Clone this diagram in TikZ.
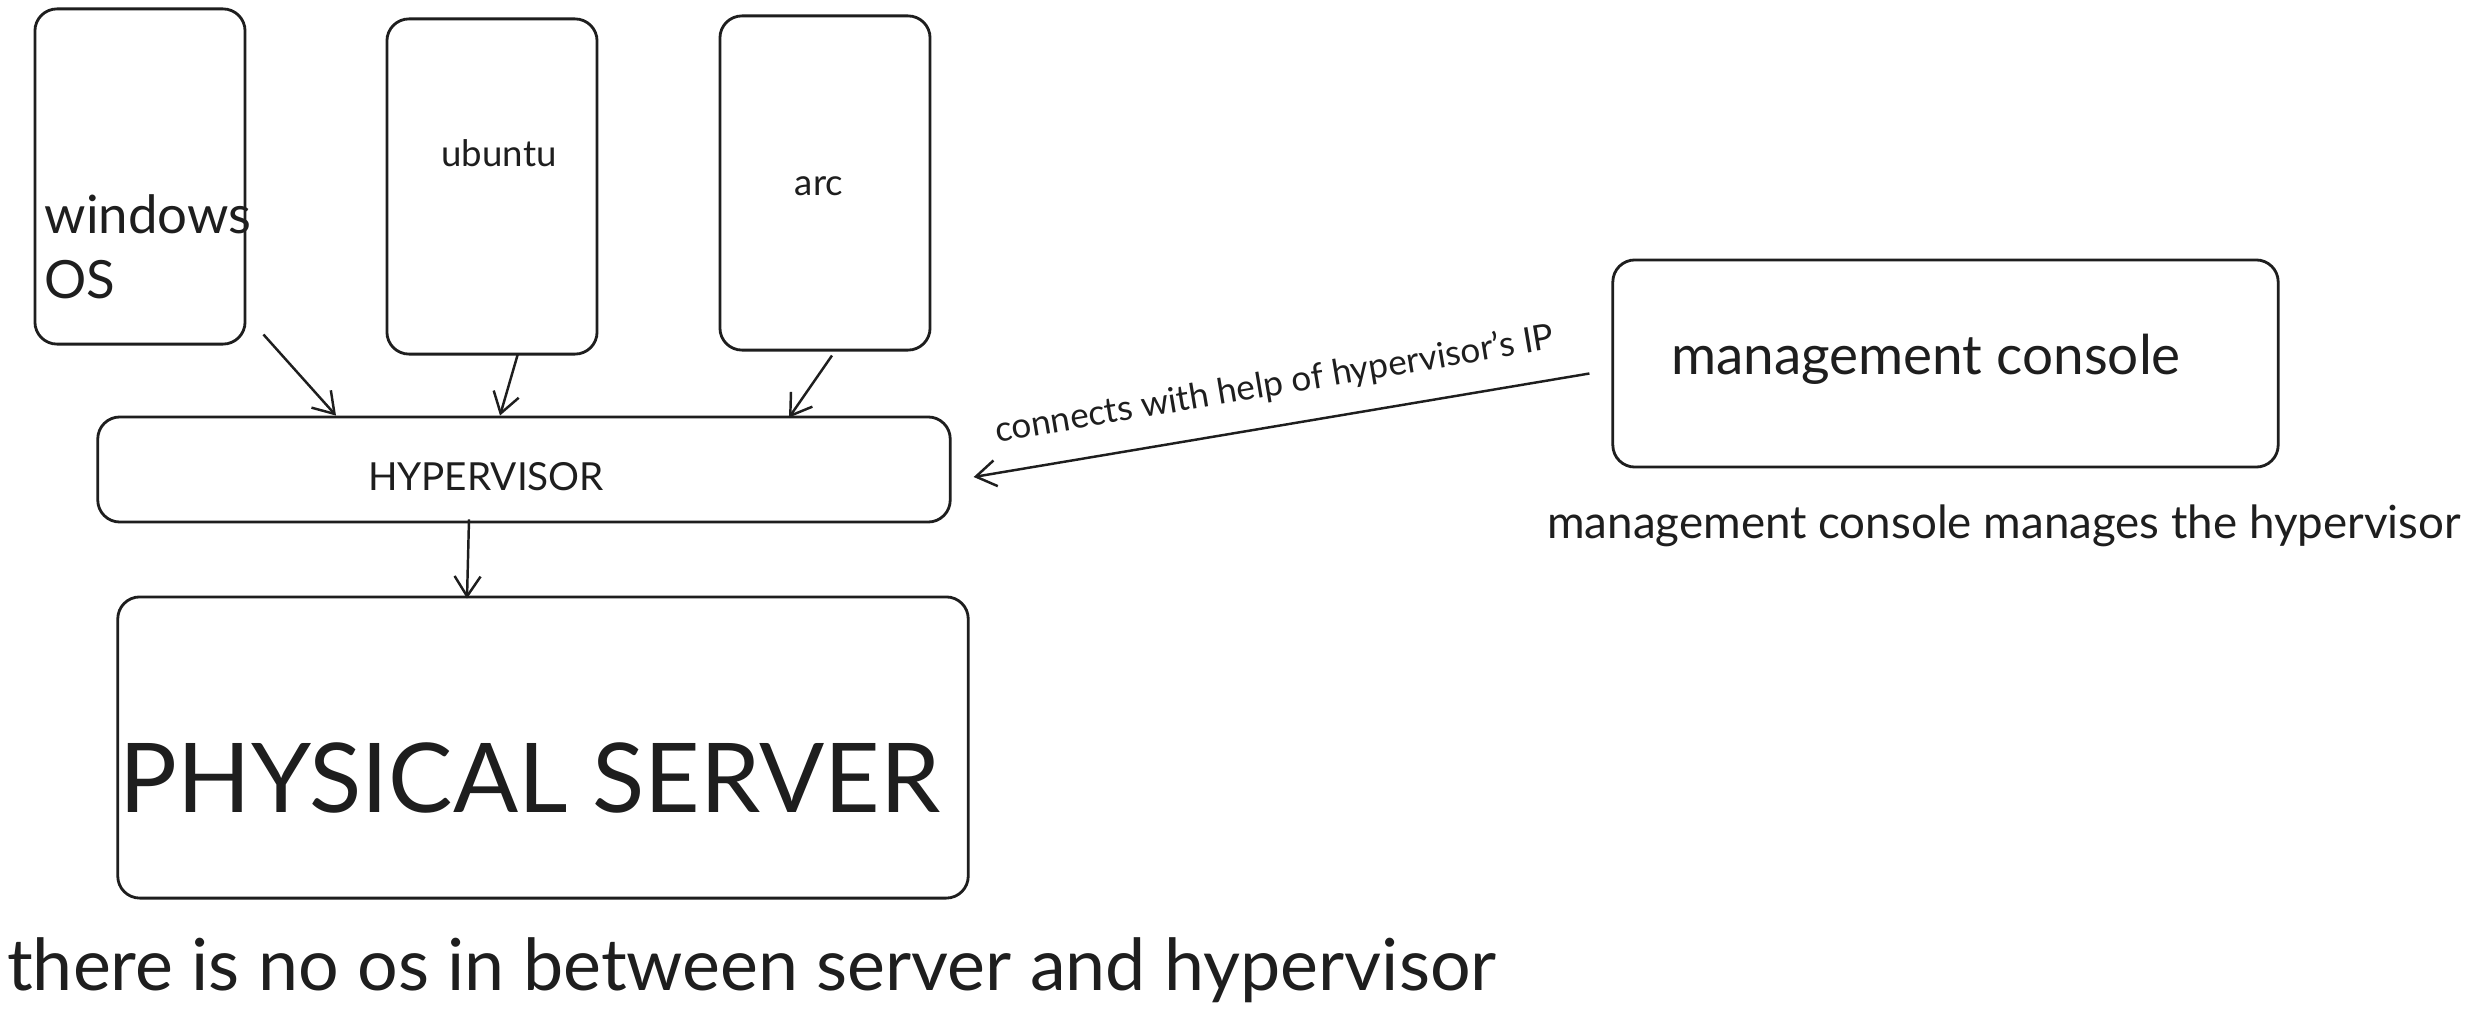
\documentclass[tikz,border=0pt]{standalone}
\usepackage{fontspec}
\setmainfont{Lato}
\usetikzlibrary{arrows.meta,calc}
\definecolor{ink}{HTML}{1E1E1E}
\tikzset{
  caixa/.style={draw=ink, line width=0.8pt, rounded corners=2.2mm, inner sep=0pt},
  seta/.style={draw=ink, line width=0.7pt, -{Straight Barb[length=2mm,width=2.6mm]}},
  rotulo/.style={text=ink, inner sep=0pt}
}
\begin{document}
\begin{tikzpicture}[x=0.01cm,y=-0.01cm]
% Fundo
\path[fill=white] (0,0) rectangle (2475,1021);
% Sistemas convidados
\node[caixa, minimum width=2.1cm, minimum height=3.35cm] (win) at (140,176.5) {};
\node[caixa, minimum width=2.1cm, minimum height=3.35cm] (ubu) at (492,186.5) {};
\node[caixa, minimum width=2.1cm, minimum height=3.34cm] (arc) at (825,183) {};
\node[rotulo, anchor=west, align=left, font=\fontsize{15}{18.5}\selectfont] (winlbl) at (44,247) {windows\\OS};
\node[rotulo, font=\fontsize{10.4}{12}\selectfont] (ubulbl) at (499,153) {ubuntu};
\node[rotulo, font=\fontsize{10.4}{12}\selectfont] (arclbl) at (819,186) {arc};
% Hypervisor e servidor
\node[caixa, minimum width=8.52cm, minimum height=1.05cm] (hyp) at (524,469.5) {};
\node[rotulo, font=\fontsize{11}{13}\selectfont] (hyplbl) at (486,477) {HYPERVISOR};
\node[caixa, minimum width=8.5cm, minimum height=3.01cm] (srv) at (543,747.5) {};
\node[rotulo, font=\fontsize{27.4}{32}\selectfont] (srvlbl) at (530,778) {PHYSICAL SERVER};
% Console
\node[caixa, minimum width=6.65cm, minimum height=2.07cm] (mc) at (1945.5,363.5) {};
\node[rotulo, font=\fontsize{15.6}{19}\selectfont] (mclbl) at (1926,359) {management console};
\node[rotulo, font=\fontsize{13}{16}\selectfont] (mcnote) at (2004,526) {management console manages the hypervisor};
\node[rotulo, font=\fontsize{20.4}{24}\selectfont] (note) at (752,970) {there is no os in between server and hypervisor};
% Setas
\draw[seta] ($(win.south east)+(17,-11)$) -- ($(hyp.north)+(-188,0)$);
\draw[seta] ($(ubu.south)+(26,-2)$) -- ($(hyp.north)+(-24,0)$);
\draw[seta] ($(arc.south)+(7,4)$) -- ($(hyp.north)+(265,2)$);
\draw[seta] ($(hyp.south)+(-55,-4)$) -- ($(srv.north)+(-76,3)$);
\draw[seta] ($(mc.west)+(-22,10)$) -- ($(hyp.east)+(22,7.5)$)
  node[rotulo, midway, sloped, above=2.3mm, font=\fontsize{10}{12}\selectfont] (iplbl) {connects with help of hypervisor's IP};
\end{tikzpicture}
\end{document}
